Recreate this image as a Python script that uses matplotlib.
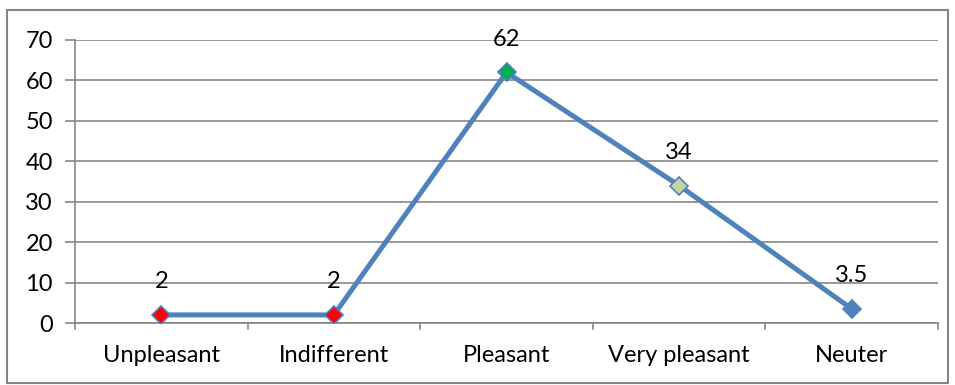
import matplotlib
matplotlib.use("Agg")
import matplotlib.pyplot as plt
from matplotlib.patches import Rectangle

categories = ["Unpleasant", "Indifferent", "Pleasant", "Very pleasant", "Neuter"]
values = [2, 2, 62, 34, 3.5]
labels = ["2", "2", "62", "34", "3.5"]
marker_colors = ["#FF0000", "#FF0000", "#00B050", "#C3D69B", "#4F81BD"]
yticks = [0, 10, 20, 30, 40, 50, 60, 70]

plt.rcParams['font.family'] = ['Lato', 'DejaVu Sans']
FS = 17

fig = plt.figure(figsize=(9.55, 3.85), dpi=100)
ax = fig.add_axes([75/955, 1-323/385, (938-75)/955, (323-40)/385])

x = list(range(len(categories)))
ax.plot(x, values, color="#4F81BD", lw=3.6, zorder=3, solid_joinstyle='miter')
for xi, v, c in zip(x, values, marker_colors):
    ax.plot([xi], [v], marker='D', ms=9, mfc=c, mec="#4F81BD", mew=1.2, zorder=4)
for xi, v, t in zip(x, values, labels):
    ax.annotate(t, (xi, v), xytext=(0, 24), textcoords='offset points',
                ha='center', va='center', fontsize=FS, color='black', zorder=5)

ax.set_xlim(-0.5, len(categories) - 0.5)
ax.set_ylim(0, 70)
ax.set_yticks(yticks)
ax.set_yticklabels([str(t) for t in yticks], fontsize=FS)
ax.yaxis.grid(True, color="#868686", lw=1.2)
ax.set_axisbelow(True)

ax.set_xticks(x)
ax.set_xticklabels(categories, fontsize=FS)
ax.tick_params(axis='x', length=0, pad=16)
ax.tick_params(axis='y', length=7, color="#868686", width=1.2, pad=9)
for b in [i - 0.5 for i in range(len(categories) + 1)]:
    ax.plot([b, b], [0, -1.4], color="#868686", lw=1.2, clip_on=False, zorder=2)

for s in ['top', 'right']:
    ax.spines[s].set_visible(False)
for s in ['left', 'bottom']:
    ax.spines[s].set_color("#868686")
    ax.spines[s].set_linewidth(1.2)

fig.patches.append(Rectangle((7/955, 1-383/385), (948-7)/955, (383-10)/385,
                             transform=fig.transFigure, fill=False,
                             edgecolor="#868686", lw=1.5))

fig.savefig("out.png", dpi=100)
